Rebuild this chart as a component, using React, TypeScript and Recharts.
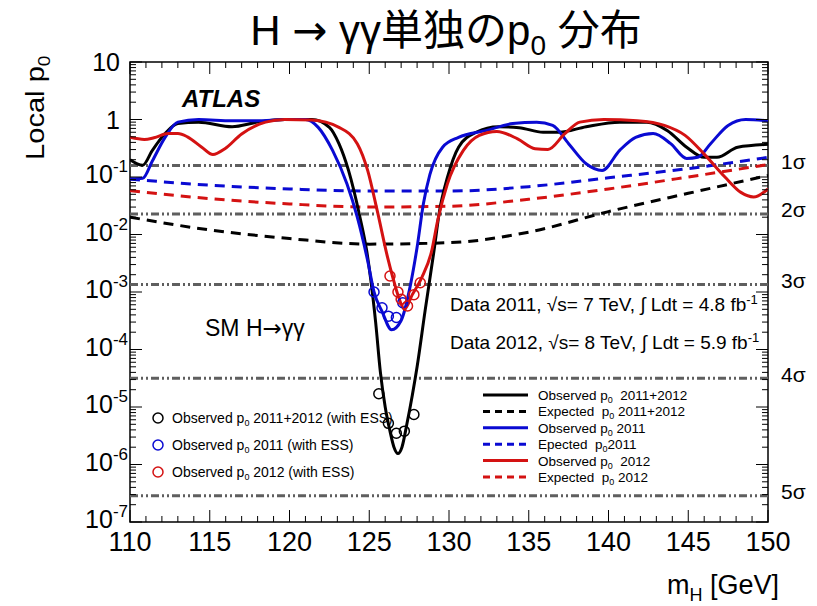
import {
  ComposedChart,
  Line,
  Scatter,
  XAxis,
  YAxis,
  ReferenceLine,
  ReferenceArea,
  Legend,
} from 'recharts'

// axis ticks
const massTicks = [110, 115, 120, 125, 130, 135, 140, 145, 150]
const pTicks = [1e-7, 1e-6, 1e-5, 1e-4, 1e-3, 1e-2, 1e-1, 1, 10]

// observed p0, 2011+2012
const obsAllMass = [110, 110.8, 111.4, 112.2, 113, 114.3, 116.4, 118, 119.7, 121.4, 122.5, 123.1, 123.7, 124.4, 124.85, 125.1, 125.4, 125.7, 126.0, 126.3, 126.55, 126.8, 127.05, 127.35, 127.7, 128.0, 128.5, 129.05, 129.4, 129.9, 130.6, 131.7, 133.1, 134.4, 135.9, 136.9, 138.6, 140.7, 142.4, 143.7, 144.9, 146.0, 146.8, 148.1, 150]
const obsAllP = [0.2, 0.16, 0.29, 0.57, 0.85, 0.9, 0.75, 0.9, 1.0, 1.0, 0.73, 0.38, 0.13, 0.021, 5e-3, 1.6e-3, 3e-4, 4e-5, 1e-5, 3.8e-6, 2e-6, 1.55e-6, 2e-6, 4.9e-6, 1.6e-5, 5e-5, 4.7e-4, 5e-3, 0.025, 0.098, 0.33, 0.6, 0.75, 0.72, 0.6, 0.6, 0.75, 0.9, 0.9, 0.64, 0.33, 0.22, 0.22, 0.33, 0.37]

// observed p0, 2011
const obs11Mass = [110, 110.8, 111.4, 112.2, 113, 114.3, 116.4, 118, 119.7, 121, 121.8, 122.7, 123.6, 124.25, 124.9, 125.3, 125.8, 126.4, 127.0, 127.6, 128.0, 128.4, 128.8, 129.6, 130.6, 132.3, 134, 135.5, 136.5, 137.5, 138.6, 139.6, 140.7, 141.7, 142.8, 143.9, 144.9, 145.6, 146.4, 147.5, 148.6, 150]
const obs11P = [0.093, 0.095, 0.19, 0.49, 0.9, 1.0, 0.95, 0.95, 1.0, 1.0, 0.73, 0.29, 0.076, 0.02, 3.5e-3, 1.0e-3, 4.6e-4, 2.2e-4, 3.2e-4, 1.4e-3, 6e-3, 0.035, 0.11, 0.33, 0.49, 0.64, 0.85, 0.9, 0.79, 0.38, 0.17, 0.13, 0.29, 0.49, 0.57, 0.38, 0.21, 0.22, 0.38, 0.79, 1.0, 0.95]

// observed p0, 2012
const obs12Mass = [110, 110.9, 111.5, 112.4, 113, 113.6, 114.5, 115.2, 115.95, 117, 118.5, 119.7, 121.4, 123.1, 124.25, 124.9, 125.5, 126.15, 126.5, 126.85, 127.2, 127.7, 128.3, 128.9, 129.3, 129.9, 130.9, 131.9, 133.0, 134.3, 135.4, 136.2, 137.25, 138.2, 139.7, 141.8, 143.5, 144.8, 146.0, 147.3, 148.3, 149.1, 150]
const obs12P = [0.49, 0.45, 0.48, 0.57, 0.57, 0.5, 0.33, 0.245, 0.31, 0.56, 0.9, 1.0, 0.98, 0.73, 0.38, 0.13, 0.026, 4e-3, 1.7e-3, 8e-4, 5e-4, 9e-4, 1.8e-3, 5e-3, 0.018, 0.076, 0.29, 0.53, 0.62, 0.46, 0.31, 0.3, 0.56, 0.9, 1.0, 0.95, 0.79, 0.53, 0.25, 0.1, 0.054, 0.045, 0.062]

// expected p0
const expMass = [110, 115, 120, 125, 130, 135, 140, 145, 150]
const expAllP = [0.02, 0.012, 0.0085, 0.0068, 0.0072, 0.011, 0.025, 0.052, 0.106]
const exp11P = [0.092, 0.072, 0.062, 0.057, 0.057, 0.068, 0.097, 0.14, 0.22]
const exp12P = [0.058, 0.042, 0.034, 0.03, 0.031, 0.041, 0.062, 0.1, 0.165]

// observed with ESS (circles)
const essAllMass = [125.6, 126.2, 126.7, 127.2, 127.8]
const essAllP = [1.7e-5, 5.2e-6, 3.5e-6, 3.8e-6, 7.4e-6]
const ess11Mass = [125.3, 125.8, 126.2, 126.7, 127.1]
const ess11P = [1.0e-3, 5.3e-4, 3.8e-4, 3.6e-4, 6.5e-4]
const ess12Mass = [126.3, 126.8, 127.0, 127.4, 127.8, 128.2]
const ess12P = [1.9e-3, 1.0e-3, 7.5e-4, 5.7e-4, 9e-4, 1.45e-3]

// significance levels
const sigmaP = [0.1587, 0.02275, 0.00135, 3.167e-5, 2.867e-7]
const sigmaNames = ['1σ', '2σ', '3σ', '4σ', '5σ']

const BLACK = '#000000'
const BLUE = '#0a0ad2'
const RED = '#d41212'
const GREY = '#5f5f5f'
const FONT = '"Liberation Sans", Arial, Helvetica, sans-serif'
const ARROW_FONT = '"DejaVu Sans", sans-serif'

const rows = (xs: number[], ps: number[]) => xs.map((x, i) => ({ x, p: ps[i] }))

// tick marks drawn inside the frame (ROOT style)
const X0 = 110
const X1 = 150
const Y0 = 1e-7
const Y1 = 10
const PX_PER_DECADE = 57.5
const PX_PER_GEV = 15.95
const minorMass = Array.from({ length: 39 }, (_, i) => 111 + i).filter((m) => m % 5 !== 0)
const minorP: number[] = []
for (let e = -7; e < 1; e++) for (let k = 2; k <= 9; k++) minorP.push(k * Math.pow(10, e))

function XTick({ x, y, payload }: any) {
  return (
    <text x={x} y={y + 29} textAnchor="middle" fontSize={27} fontFamily={FONT} fill="#000">
      {payload.value}
    </text>
  )
}

function YTick({ x, y, payload }: any) {
  const e = Math.round(Math.log10(payload.value))
  if (e >= 0) {
    return (
      <text x={x - 2} y={y + 9} textAnchor="end" fontSize={25} fontFamily={FONT} fill="#000">
        {e === 0 ? '1' : '10'}
      </text>
    )
  }
  return (
    <text x={x + 6} y={y + 6} textAnchor="end" fontSize={25} fontFamily={FONT} fill="#000">
      10<tspan dy={-11} fontSize={17}>{e}</tspan>
    </text>
  )
}

const sub0 = (
  <tspan dy={3} fontSize={9}>
    0
  </tspan>
)

const lineLegend = [
  { name: 'Observed p', tail: '  2011+2012', color: BLACK, dash: undefined },
  { name: 'Expected  p', tail: ' 2011+2012', color: BLACK, dash: '7 5' },
  { name: 'Observed p', tail: ' 2011', color: BLUE, dash: undefined },
  { name: 'Epected  p', tail: '2011', color: BLUE, dash: '7 5' },
  { name: 'Observed p', tail: '  2012', color: RED, dash: undefined },
  { name: 'Expected  p', tail: ' 2012', color: RED, dash: '7 5' },
]

const circleLegend = [
  { label: ' 2011+2012 (with ESS)', color: BLACK },
  { label: ' 2011 (with ESS)', color: BLUE },
  { label: ' 2012 (with ESS)', color: RED },
]

function LegendBox() {
  return (
    <svg width={560} height={105} style={{ display: 'block' }}>
      {circleLegend.map((c, i) => (
        <g key={i}>
          <circle cx={8} cy={33 + i * 27} r={5} fill="none" stroke={c.color} strokeWidth={1.5} />
          <text x={22} y={38 + i * 27} fontSize={14} fontFamily={FONT} fill="#000">
            Observed p{sub0}
            <tspan dy={-3}>{c.label}</tspan>
          </text>
        </g>
      ))}
      {lineLegend.map((l, i) => (
        <g key={i}>
          <line
            x1={333}
            x2={378}
            y1={10 + i * 16.4}
            y2={10 + i * 16.4}
            stroke={l.color}
            strokeWidth={3}
            strokeDasharray={l.dash}
          />
          <text x={388} y={15 + i * 16.4} fontSize={13.5} fontFamily={FONT} fill="#000" xmlSpace="preserve">
            {l.name}
            {sub0}
            <tspan dy={-3}>{l.tail}</tspan>
          </text>
        </g>
      ))}
    </svg>
  )
}

export default function App() {
  const fx = Math.pow(10, 12 / PX_PER_DECADE)
  const fxm = Math.pow(10, 6 / PX_PER_DECADE)
  const dy = 12 / PX_PER_GEV
  const dym = 6 / PX_PER_GEV
  const tick = (a: { x: number; y: number }, b: { x: number; y: number }, key: string) => (
    <ReferenceLine key={key} segment={[a, b]} stroke="#000" strokeWidth={1} ifOverflow="visible" />
  )

  return (
    <div style={{ position: 'absolute', left: 0, top: 0, width: 817, height: 606, background: '#fff' }}>
      <ComposedChart width={817} height={606} margin={{ top: 62, right: 49, bottom: 54, left: 0 }}>
        <XAxis
          dataKey="x"
          type="number"
          domain={[X0, X1]}
          ticks={massTicks}
          interval={0}
          allowDataOverflow
          axisLine={false}
          tickLine={false}
          tickSize={0}
          tickMargin={0}
          height={30}
          tick={<XTick />}
        />
        <YAxis
          dataKey="p"
          type="number"
          scale="log"
          domain={[Y0, Y1]}
          ticks={pTicks}
          interval={0}
          allowDataOverflow
          axisLine={false}
          tickLine={false}
          tickSize={0}
          tickMargin={8}
          width={130}
          tick={<YTick />}
        />

        {sigmaP.map((s, i) => (
          <ReferenceLine
            key={'sig' + i}
            y={s}
            stroke={GREY}
            strokeWidth={3}
            strokeDasharray="8 3 2 3 2 3"
            label={{
              value: sigmaNames[i],
              position: 'right',
              offset: 13,
              dy: -4,
              fill: '#000',
              fontSize: 21,
              fontFamily: FONT,
            }}
          />
        ))}

        <Line data={rows(expMass, expAllP)} dataKey="p" type="monotone" stroke={BLACK} strokeWidth={3} strokeDasharray="10 7" dot={false} isAnimationActive={false} />
        <Line data={rows(expMass, exp11P)} dataKey="p" type="monotone" stroke={BLUE} strokeWidth={3} strokeDasharray="10 7" dot={false} isAnimationActive={false} />
        <Line data={rows(expMass, exp12P)} dataKey="p" type="monotone" stroke={RED} strokeWidth={3} strokeDasharray="10 7" dot={false} isAnimationActive={false} />
        <Line data={rows(obsAllMass, obsAllP)} dataKey="p" type="monotone" stroke={BLACK} strokeWidth={3} dot={false} isAnimationActive={false} />
        <Line data={rows(obs11Mass, obs11P)} dataKey="p" type="monotone" stroke={BLUE} strokeWidth={3} dot={false} isAnimationActive={false} />
        <Line data={rows(obs12Mass, obs12P)} dataKey="p" type="monotone" stroke={RED} strokeWidth={3} dot={false} isAnimationActive={false} />

        {[
          { d: rows(essAllMass, essAllP), c: BLACK },
          { d: rows(ess11Mass, ess11P), c: BLUE },
          { d: rows(ess12Mass, ess12P), c: RED },
        ].map((s, i) => (
          <Scatter
            key={'ess' + i}
            data={s.d}
            isAnimationActive={false}
            shape={(props: any) => <circle cx={props.cx} cy={props.cy} r={5} fill="none" stroke={s.c} strokeWidth={1.5} />}
          />
        ))}

        {/* frame */}
        <ReferenceArea x1={X0} x2={X1} y1={Y0} y2={Y1} fill="none" stroke="#000" strokeWidth={1.5} ifOverflow="visible" />
        {massTicks.map((m) => [
          tick({ x: m, y: Y0 }, { x: m, y: Y0 * fx }, 'xb' + m),
          tick({ x: m, y: Y1 }, { x: m, y: Y1 / fx }, 'xt' + m),
        ])}
        {minorMass.map((m) => [
          tick({ x: m, y: Y0 }, { x: m, y: Y0 * fxm }, 'xbm' + m),
          tick({ x: m, y: Y1 }, { x: m, y: Y1 / fxm }, 'xtm' + m),
        ])}
        {pTicks.map((p) => [
          tick({ x: X0, y: p }, { x: X0 + dy, y: p }, 'yl' + p),
          tick({ x: X1, y: p }, { x: X1 - dy, y: p }, 'yr' + p),
        ])}
        {minorP.map((p) => [
          tick({ x: X0, y: p }, { x: X0 + dym, y: p }, 'ylm' + p),
          tick({ x: X1, y: p }, { x: X1 - dym, y: p }, 'yrm' + p),
        ])}

        <Legend
          layout="horizontal"
          verticalAlign="middle"
          align="center"
          wrapperStyle={{ left: 150, top: 385, width: 560, height: 105 }}
          content={() => <LegendBox />}
        />
      </ComposedChart>

      <svg
        width={817}
        height={606}
        style={{ position: 'absolute', left: 0, top: 0, pointerEvents: 'none' }}
        fontFamily={FONT}
      >
        <text x={446} y={45} textAnchor="middle" fontSize={42} fontFamily={'"Liberation Sans", "Noto Sans CJK JP", sans-serif'}>
          H <tspan fontFamily={ARROW_FONT}>→</tspan> γγ単独のp<tspan dy={10} fontSize={28}>0</tspan>
          <tspan dy={-10}> 分布</tspan>
        </text>
        <text transform="translate(44,160) rotate(-90) scale(1.12,1)" fontSize={26}>
          Local p<tspan dy={6} fontSize={17}>0</tspan>
        </text>
        <text x={667} y={594} fontSize={27}>
          m<tspan dy={7} fontSize={18}>H</tspan>
          <tspan dy={-7}> [GeV]</tspan>
        </text>
        <text x={182} y={107} fontSize={24} fontWeight="bold" fontStyle="italic">
          ATLAS
        </text>
        <text x={205} y={336} fontSize={23}>
          SM H<tspan fontFamily={ARROW_FONT}>→</tspan>γγ
        </text>
        <text x={450} y={311} fontSize={19}>
          Data 2011, √s= 7 TeV, ∫ Ldt = 4.8 fb<tspan dy={-7} fontSize={13}>-1</tspan>
        </text>
        <text x={450} y={349} fontSize={19}>
          Data 2012, √s= 8 TeV, ∫ Ldt = 5.9 fb<tspan dy={-7} fontSize={13}>-1</tspan>
        </text>
      </svg>
    </div>
  )
}
